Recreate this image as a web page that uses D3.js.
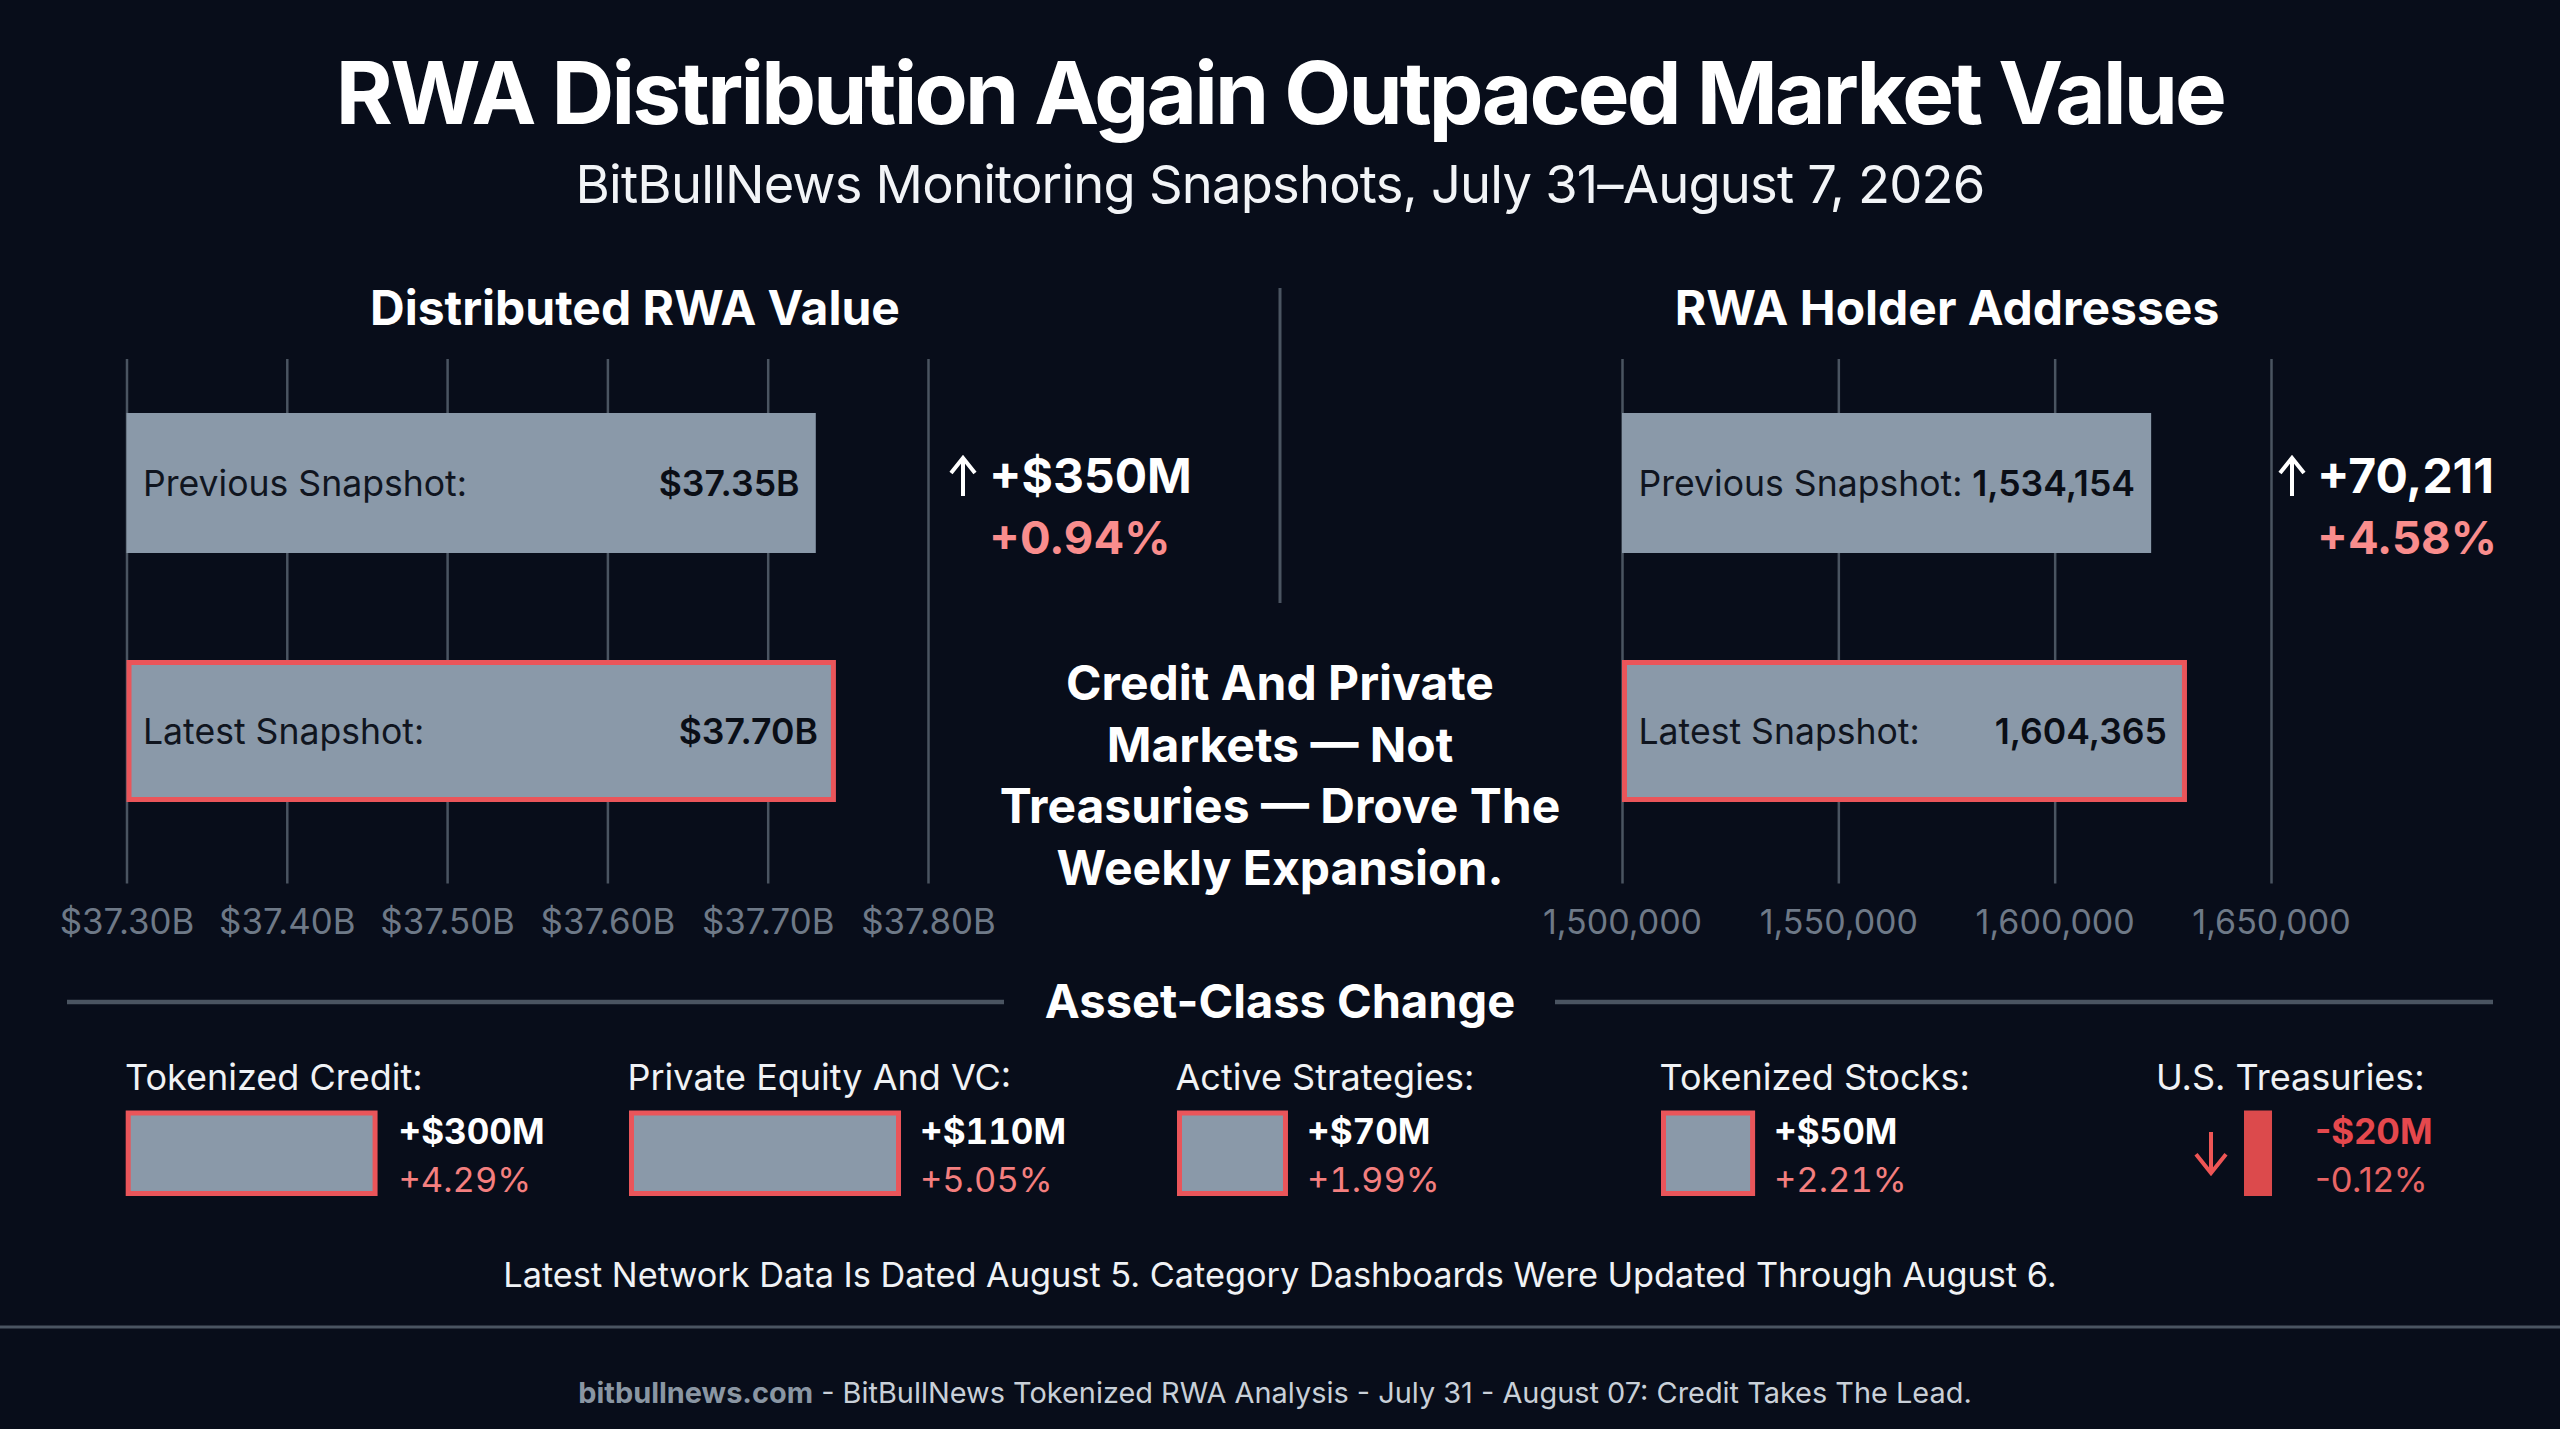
<!DOCTYPE html>
<html><head><meta charset="utf-8">
<script src="https://cdn.jsdelivr.net/npm/d3@7/dist/d3.min.js"></script>
<style>html,body{margin:0;padding:0;background:#080d1a}svg{display:block}text{font-family:Inter,Roboto,sans-serif}</style>
</head><body><script>
// ---- data ----
const snapshots = ["Previous Snapshot:", "Latest Snapshot:"];
const rwaBarEnds = [37.73, 37.741];              // where the bars end on the drawn axis
const rwaLabels = ["$37.35B", "$37.70B"];
const rwaTicks = [37.30, 37.40, 37.50, 37.60, 37.70, 37.80];
const holderBarEnds = [1622300, 1630000];        // where the bars end on the drawn axis
const holderLabels = ["1,534,154", "1,604,365"];
const holderTicks = [1500000, 1550000, 1600000, 1650000];
const assetClasses = ["Tokenized Credit:", "Private Equity And VC:", "Active Strategies:", "Tokenized Stocks:", "U.S. Treasuries:"];
const assetBarSizes = [92.6, 100, 40.8, 34.6, 10.3];  // drawn bar size, largest = 100
const assetChanges = ["+$300M", "+$110M", "+$70M", "+$50M", "-$20M"];
const assetPercents = ["+4.29%", "+5.05%", "+1.99%", "+2.21%", "-0.12%"];
const centerLines = ["Credit And Private", "Markets — Not", "Treasuries — Drove The", "Weekly Expansion."];

// ---- layout and style ----
const W = 2560, H = 1429;
const BG = "#080d1a", BAR = "#8a99a9", RED = "#ea555a", GRID = "#4a5461", TICK = "#6e7987", PINK = "#f98d8d";
const svg = d3.select("body").append("svg").attr("width", W).attr("height", H).attr("viewBox", `0 0 ${W} ${H}`);
svg.append("rect").attr("width", W).attr("height", H).attr("fill", BG);

function txt(x, y, s, size, weight, fill, anchor) {
  return svg.append("text").attr("x", x).attr("y", y).attr("dy", "0.355em")
    .attr("font-size", size).attr("font-weight", weight).attr("fill", fill)
    .attr("text-anchor", anchor || "start").text(s);
}
function arrow(x, y1, y2, color, w, a) {
  const dir = y2 > y1 ? 1 : -1;
  svg.append("path").attr("fill", "none").attr("stroke", color).attr("stroke-width", w)
    .attr("d", d3.line()([[x, y1], [x, y2]]) + d3.line()([[x - a, y2 - dir * a * 1.25], [x, y2], [x + a, y2 - dir * a * 1.25]]));
}

txt(1280, 93, "RWA Distribution Again Outpaced Market Value", 87, 700, "#ffffff", "middle").attr("letter-spacing", -2.8);
txt(1280, 184.5, "BitBullNews Monitoring Snapshots, July 31–August 7, 2026", 52.5, 400, "#f2f4f7", "middle").attr("letter-spacing", -0.8);
txt(635, 308, "Distributed RWA Value", 48, 700, "#ffffff", "middle");
txt(1947, 308, "RWA Holder Addresses", 48, 700, "#ffffff", "middle");
svg.append("line").attr("x1", 1280).attr("x2", 1280).attr("y1", 288).attr("y2", 603).attr("stroke", GRID).attr("stroke-width", 3);

const barY = d3.scalePoint().domain(snapshots).range([483, 731]);
const rwaX = d3.scaleLinear().domain([37.30, 37.80]).range([126.5, 928]);
const holderX = d3.scaleLinear().domain([1500000, 1650000]).range([1622, 2271]);

function panel(x, ticks, fmt, ends, labels, labelX, valueRight, tickSize) {
  const ax = d3.axisBottom(x).tickValues(ticks).tickFormat(fmt).tickSize(524.6).tickPadding(0);
  const g = svg.append("g").attr("transform", "translate(0,359)").call(ax);
  g.select(".domain").remove();
  g.selectAll(".tick line").attr("stroke", GRID).attr("stroke-width", 2.5);
  g.selectAll(".tick text").attr("y", 563).attr("dy", "0.355em").attr("font-size", tickSize)
    .attr("font-family", "Inter,Roboto,sans-serif").attr("fill", TICK);
  snapshots.forEach((s, i) => {
    const cy = barY(s), latest = i === 1, h = latest ? 137 : 140, inset = latest ? 2.5 : 0;
    const x0 = x(x.domain()[0]) + inset;
    svg.append("rect").attr("x", x0).attr("y", cy - h / 2)
      .attr("width", x(ends[i]) - x0).attr("height", h)
      .attr("fill", BAR).attr("stroke", latest ? RED : "none").attr("stroke-width", 5);
    txt(labelX, cy, s, 35.6, 400, "#10151f");
    txt(valueRight[i], cy, labels[i], 35.6, 600, "#0a0e16", "end");
  });
}
panel(rwaX, rwaTicks, d => "$" + d3.format(".2f")(d) + "B", rwaBarEnds, rwaLabels, 143, [799.5, 818], 34.8);
panel(holderX, holderTicks, d3.format(","), holderBarEnds, holderLabels, 1638.5, [2135, 2167], 34);

arrow(963, 496, 458, "#ffffff", 4, 12);
txt(989, 476, "+$350M", 48, 700, "#ffffff");
txt(989, 538, "+0.94%", 45.5, 700, PINK);
arrow(2292, 496, 458, "#ffffff", 4, 12);
txt(2317, 476, "+70,211", 48, 700, "#ffffff");
txt(2317, 538, "+4.58%", 45.5, 700, PINK);

centerLines.forEach((l, i) => txt(1280, 683 + i * 61.7, l, 48, 700, "#ffffff", "middle"));

[[67, 1004], [1555, 2493]].forEach(([a, b]) =>
  svg.append("line").attr("x1", a).attr("x2", b).attr("y1", 1002).attr("y2", 1002).attr("stroke", GRID).attr("stroke-width", 4.5));
txt(1280, 1001, "Asset-Class Change", 47, 700, "#ffffff", "middle");

const sizeScale = d3.scaleLinear().domain([0, 100]).range([0, 272]);
const assetLeft = [125.7, 629, 1177, 1661, 2244];
const assetText = [398.5, 920, 1307, 1774, 2315];
const assetLabelX = [125, 627.5, 1175.5, 1659.5, 2156];
assetClasses.forEach((c, i) => {
  const neg = assetChanges[i].startsWith("-");
  const nums = neg ? "normal" : "tabular-nums";
  txt(assetLabelX[i], 1077, c, 36, 400, "#f0f2f5");
  const w = sizeScale(assetBarSizes[i]);
  svg.append("rect").attr("x", assetLeft[i] + (neg ? 0 : 2.5)).attr("y", neg ? 1110.5 : 1113)
    .attr("width", w - (neg ? 0 : 5)).attr("height", neg ? 85.5 : 80.5)
    .attr("fill", neg ? "#dc4a4c" : BAR).attr("stroke", neg ? "none" : RED).attr("stroke-width", 5);
  txt(assetText[i], 1132, assetChanges[i], 35, 700, neg ? "#e5484d" : "#ffffff").style("font-variant-numeric", nums);
  txt(assetText[i], 1180, assetPercents[i], 34.5, 400, neg ? "#e86565" : "#f47f7f").style("font-variant-numeric", nums);
});
arrow(2211, 1132, 1173, "#ee5555", 4, 15);

txt(1280, 1275, "Latest Network Data Is Dated August 5. Category Dashboards Were Updated Through August 6.", 34.3, 400, "#f0f2f5", "middle");
svg.append("line").attr("x1", 0).attr("x2", W).attr("y1", 1327).attr("y2", 1327).attr("stroke", GRID).attr("stroke-width", 3);
const foot = txt(1275, 1393, "", 28.9, 400, "#c9d0d8", "middle");
foot.append("tspan").attr("font-weight", 700).attr("fill", "#8a96a3").text("bitbullnews.com");
foot.append("tspan").text(" - BitBullNews Tokenized RWA Analysis - July 31 - August 07: Credit Takes The Lead.");
</script></body></html>
